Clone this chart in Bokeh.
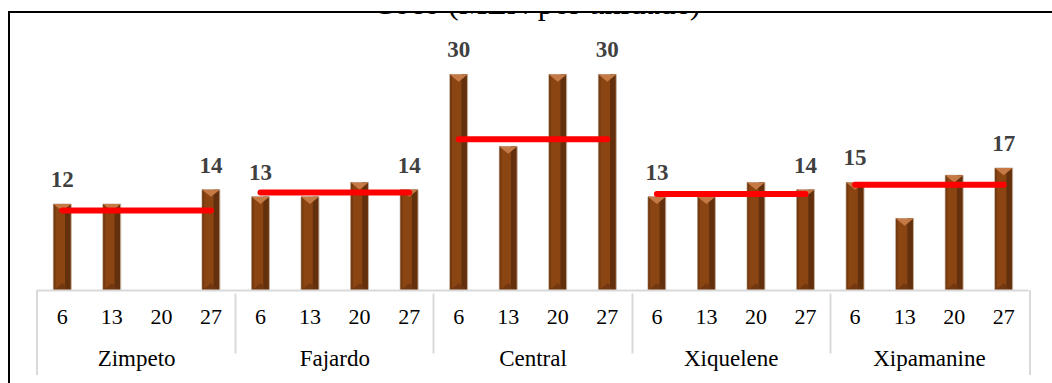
from bokeh.plotting import figure
from bokeh.models import (FactorRange, ColumnDataSource, LabelSet, Label,
                          InlineStyleSheet)
from bokeh.transform import dodge
from bokeh.embed import file_html
from bokeh.resources import INLINE

# Coconut price (MZN per unit) by market and day of the month
markets = ["Zimpeto", "Fajardo", "Central", "Xiquelene", "Xipamanine"]
days = ["6", "13", "20", "27"]
zimpeto = [12, 12, None, 14]
fajardo = [13, 13, 15, 14]
central = [30, 20, 30, 30]
xiquelene = [13, 13, 15, 14]
xipamanine = [15, 10, 16, 17]
# monthly reference level drawn as a red line across each market
media = [11.1, 13.6, 21.0, 13.4, 14.7]

series = [zimpeto, fajardo, central, xiquelene, xipamanine]
# middle level is a blank spacer row between the day and market labels
SP = " "
factors = [(m, SP, d) for m in markets for d in days]

xs, vals, lab = [], [], []
for m, row in zip(markets, series):
    for i, (d, v) in enumerate(zip(days, row)):
        if v is None:
            continue
        xs.append((m, SP, d))
        vals.append(v)
        lab.append(str(v) if i in (0, len(days) - 1) else "")

src = ColumnDataSource(dict(x=xs, v=vals, lab=lab))

p = figure(x_range=FactorRange(*factors, range_padding=0, factor_padding=0,
                               subgroup_padding=0, group_padding=0),
           y_range=(0, 38.6), width=1052, height=383,
           output_backend="svg", toolbar_location=None,
           min_border_left=37, min_border_right=24,
           min_border_top=12, min_border_bottom=93)
p.outline_line_color = None
p.xgrid.grid_line_color = None
p.ygrid.grid_line_color = None
p.yaxis.visible = False
p.background_fill_color = "white"
p.border_fill_color = "white"

BW = 0.36
# bar body
p.vbar(x="x", top="v", width=BW, source=src, fill_color="#8b4513",
       line_color="#c2b2a3", line_width=1)
# shaded right side and thin left edge
p.vbar(x=dodge("x", 0.11, range=p.x_range), top="v", width=0.11, source=src,
       fill_color="#62300c", line_color=None)
p.vbar(x=dodge("x", -0.155, range=p.x_range), top="v", width=0.04, source=src,
       fill_color="#743a10", line_color=None)

# bevelled caps: light triangle on top, darker one at the base
tri_x, tri_y_top, tri_y_bot = [], [], []
h = 1.0
for x, v in zip(xs, vals):
    tri_x.append([x + (-BW / 2,), x + (BW / 2,), x + (0.0,)])
    tri_y_top.append([v, v, v - h])
    tri_y_bot.append([0, 0, h])
p.patches(tri_x, tri_y_top, fill_color="#c57a45", line_color=None)
p.patches(tri_x, tri_y_bot, fill_color="#6e3510", line_color=None, fill_alpha=0.8)

# red reference line per market
p.segment(x0=[(m, SP, days[0]) for m in markets],
          x1=[(m, SP, days[-1]) for m in markets],
          y0=media, y1=media, line_color="#ff0000", line_width=6, line_cap="round")

# value labels on the first and last day of each market
p.add_layout(LabelSet(x="x", y="v", text="lab", source=src, y_offset=17,
                      text_align="center", text_baseline="alphabetic",
                      text_font="Liberation Serif", text_font_style="bold",
                      text_font_size="23px", text_color="#404040"))

ax = p.xaxis[0]
ax.axis_line_color = "#d9d9d9"
ax.axis_line_width = 2
ax.major_tick_line_color = None
ax.minor_tick_line_color = None
ax.major_tick_in = 0
ax.major_tick_out = 14
ax.major_label_text_font = "Liberation Serif"
ax.major_label_text_font_size = "22px"
ax.major_label_text_color = "#000000"
ax.subgroup_text_font_size = "6px"
ax.group_text_font = "Liberation Serif"
ax.group_text_font_size = "23px"
ax.group_text_color = "#000000"
ax.group_text_font_style = "normal"
ax.major_label_standoff = 5
ax.separator_line_color = "#d9d9d9"
ax.separator_line_width = 2

# chart border (left/top) and outer edges of the category box
p.stylesheets = [InlineStyleSheet(css="""
:host { position: relative; }
:host::after {
  content: ""; position: absolute; left: 8px; top: 11px; right: 0; bottom: 0;
  border-left: 2px solid #000; border-top: 2px solid #000;
  pointer-events: none; z-index: 5;
}
:host::before {
  content: ""; position: absolute; left: 36px; top: 290px; width: 991px;
  height: 85px; border-left: 2px solid #d9d9d9; border-right: 2px solid #d9d9d9;
  pointer-events: none; z-index: 5;
}
""")]

p.add_layout(Label(x=499, y=288, x_units="screen", y_units="screen",
                   text="Coco (MZN por unidade)", text_align="center",
                   text_baseline="alphabetic", text_font="Liberation Serif",
                   text_font_size="32px", text_color="#000000"))

open("out.html", "w").write(file_html(p, INLINE))
